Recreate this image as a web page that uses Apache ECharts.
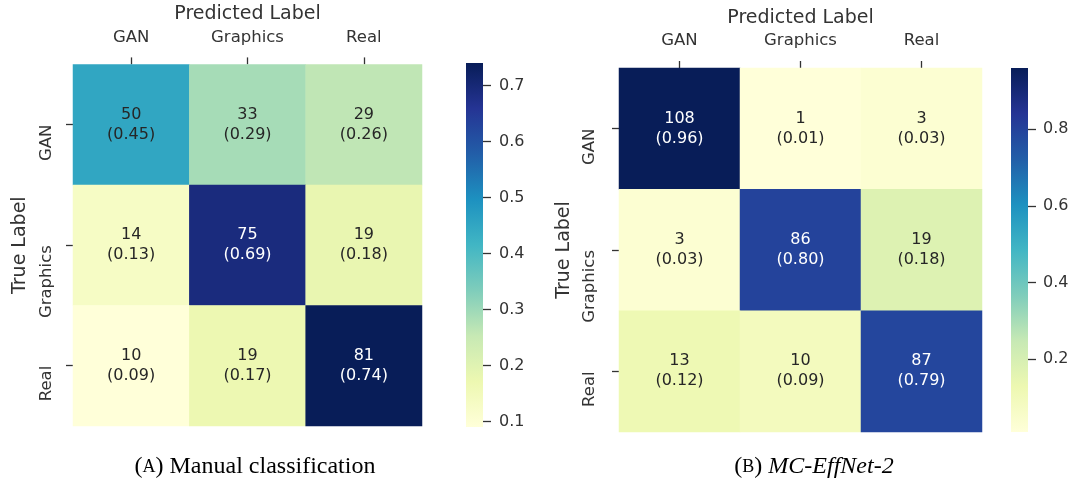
<!DOCTYPE html>
<html><head><meta charset="utf-8">
<script src="https://cdn.jsdelivr.net/npm/echarts@6/dist/echarts.min.js"></script>
<style>html,body{margin:0;padding:0;background:#fff}#c{width:1073px;height:490px}</style>
</head><body><div id="c"></div>
<script>
const classes = ['GAN', 'Graphics', 'Real'];
const countsA = [[50, 33, 29], [14, 75, 19], [10, 19, 81]];
const fracA = [[0.45, 0.29, 0.26], [0.13, 0.69, 0.18], [0.09, 0.17, 0.74]];
const countsB = [[108, 1, 3], [3, 86, 19], [13, 10, 87]];
const fracB = [[0.96, 0.01, 0.03], [0.03, 0.80, 0.18], [0.12, 0.09, 0.79]];
const ticksA = [0.1, 0.2, 0.3, 0.4, 0.5, 0.6, 0.7];
const ticksB = [0.2, 0.4, 0.6, 0.8];
const rangeA = [0.09, 0.74];
const rangeB = [0.01, 0.96];
const YlGnBu = ['#ffffd9', '#edf8b1', '#c7e9b4', '#7fcdbb', '#41b6c4', '#1d91c0', '#225ea8', '#253494', '#081d58'];

const FONT = 'DejaVu Sans';
const TXT = '#333333';
const SERIF = 'Liberation Serif';

function cells(counts, frac) {
  const out = [];
  for (let r = 0; r < counts.length; r++)
    for (let c = 0; c < counts[r].length; c++)
      out.push([c, r, frac[r][c], counts[r][c]]);
  return out;
}

const chart = echarts.init(document.getElementById('c'), null, {renderer: 'canvas'});

const grids = [
  {left: 73, top: 64, width: 349, height: 362},
  {left: 466, top: 63, width: 17, height: 364},
  {left: 619, top: 68, width: 363, height: 364},
  {left: 1011, top: 68, width: 17, height: 364}
];

function heatX(gi, gap) {
  return {
    type: 'category', gridIndex: gi, data: classes, position: 'top',
    name: 'Predicted Label', nameLocation: 'middle', nameGap: gap,
    nameTextStyle: {fontFamily: FONT, fontSize: 19, color: TXT, verticalAlign: 'middle'},
    axisLine: {show: false},
    axisTick: {show: true, alignWithLabel: true, length: 7, lineStyle: {color: TXT, width: 1.3}},
    axisLabel: {fontFamily: FONT, fontSize: 16.5, color: TXT, margin: 27, verticalAlign: 'middle'},
    splitLine: {show: false}
  };
}
function heatY(gi, gap, margin) {
  return {
    type: 'category', gridIndex: gi, data: classes, inverse: true,
    name: 'True Label', nameLocation: 'middle', nameGap: gap,
    nameTextStyle: {fontFamily: FONT, fontSize: 19, color: TXT, verticalAlign: 'middle', align: 'center'},
    axisLine: {show: false},
    axisTick: {show: true, alignWithLabel: true, length: 7, lineStyle: {color: TXT, width: 1.3}},
    axisLabel: {fontFamily: FONT, fontSize: 16.5, color: TXT, rotate: 90, align: 'right', verticalAlign: 'middle', margin: margin},
    splitLine: {show: false}
  };
}
function cbX(gi) {
  return {type: 'category', gridIndex: gi, data: ['cb'], show: false};
}
function cbY(gi, range, ticks, margin) {
  return {
    type: 'value', gridIndex: gi, min: range[0], max: range[1], position: 'right',
    axisLine: {show: false}, splitLine: {show: false},
    axisTick: {show: true, customValues: ticks, length: 8, lineStyle: {color: TXT, width: 1.3}},
    axisLabel: {customValues: ticks, margin: margin, fontFamily: FONT, fontSize: 16, color: TXT,
      formatter: v => v.toFixed(1)}
  };
}

function heatSeries(xi, data, range) {
  return {
    type: 'heatmap', xAxisIndex: xi, yAxisIndex: xi, data: data,
    label: {
      show: true,
      formatter: p => {
        const v = p.data[2];
        const n = (v - range[0]) / (range[1] - range[0]);
        const k = n > 0.6 ? 'w' : 'd';
        return '{' + k + '|' + p.data[3] + '}\n{' + k + '|(' + v.toFixed(2) + ')}';
      },
      rich: {
        w: {color: '#ffffff', fontFamily: FONT, fontSize: 16, lineHeight: 20},
        d: {color: '#262626', fontFamily: FONT, fontSize: 16, lineHeight: 20}
      }
    },
    itemStyle: {borderWidth: 0},
    emphasis: {disabled: true},
    silent: true
  };
}

function cbSeries(xi, range) {
  return {
    type: 'custom', xAxisIndex: xi, yAxisIndex: xi, silent: true,
    data: [[0, range[0], range[1]]],
    renderItem: (params, api) => {
      const p0 = api.coord([api.value(0), api.value(1)]);
      const p1 = api.coord([api.value(0), api.value(2)]);
      const w = api.size([1, 0])[0];
      return {
        type: 'rect',
        shape: {x: p0[0] - w / 2, y: p1[1], width: w, height: p0[1] - p1[1]},
        style: {fill: new echarts.graphic.LinearGradient(0, 1, 0, 0,
          YlGnBu.map((c, i) => ({offset: i / (YlGnBu.length - 1), color: c})))}
      };
    }
  };
}

const option = {
  backgroundColor: '#ffffff',
  animation: false,
  grid: grids,
  xAxis: [heatX(0, 47), cbX(1), heatX(2, 47), cbX(3)],
  yAxis: [heatY(0, 53, 26), cbY(1, rangeA, ticksA, 16), heatY(2, 55, 29), cbY(3, rangeB, ticksB, 15)],
  visualMap: [
    {type: 'continuous', show: false, seriesIndex: 0, dimension: 2, min: rangeA[0], max: rangeA[1], inRange: {color: YlGnBu}},
    {type: 'continuous', show: false, seriesIndex: 2, dimension: 2, min: rangeB[0], max: rangeB[1], inRange: {color: YlGnBu}}
  ],
  series: [
    heatSeries(0, cells(countsA, fracA), rangeA),
    cbSeries(1, rangeA),
    heatSeries(2, cells(countsB, fracB), rangeB),
    cbSeries(3, rangeB)
  ],
  graphic: [
    {type: 'text', x: 255, y: 467, silent: true,
      style: {text: '({sc|A}) Manual classification', align: 'center', verticalAlign: 'middle',
        fontFamily: SERIF, fontSize: 24, fill: '#000',
        rich: {sc: {fontFamily: SERIF, fontSize: 18, fill: '#000'}}}},
    {type: 'text', x: 814, y: 467, silent: true,
      style: {text: '({sc|B}) {it|MC-EffNet-2}', align: 'center', verticalAlign: 'middle',
        fontFamily: SERIF, fontSize: 24, fill: '#000',
        rich: {sc: {fontFamily: SERIF, fontSize: 18, fill: '#000'},
               it: {fontFamily: SERIF, fontSize: 24, fontStyle: 'italic', fill: '#000'}}}}
  ]
};
chart.setOption(option);
</script>
</body></html>
